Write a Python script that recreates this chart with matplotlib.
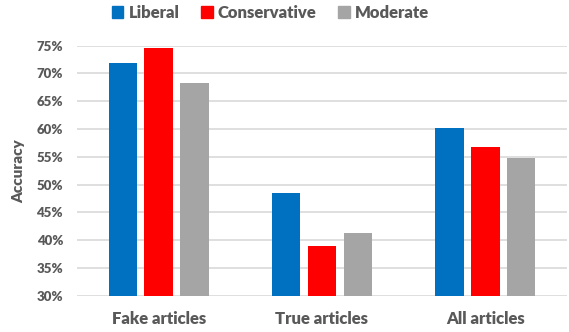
import numpy as np
import matplotlib.pyplot as plt
from matplotlib.patches import Patch

categories = ['Fake articles', 'True articles', 'All articles']
liberal = [71.8, 48.4, 60.1]
conservative = [74.5, 39.0, 56.7]
moderate = [68.2, 41.3, 54.8]
yticks = [30, 35, 40, 45, 50, 55, 60, 65, 70, 75]

series = [('Liberal', liberal, '#0070C0'),
          ('Conservative', conservative, '#FF0000'),
          ('Moderate', moderate, '#A5A5A5')]

plt.rcParams['font.family'] = ['Lato', 'DejaVu Sans']
text_col = '#595959'
wt = 'heavy'

fig = plt.figure(figsize=(5.69, 3.32), dpi=100)
ax = fig.add_axes([0.1353, 0.1093, 0.8612, 0.753])

x = np.arange(len(categories))
step = 0.22
width = 0.174
for i, (name, vals, col) in enumerate(series):
    ax.bar(x + (i - 1) * step, np.array(vals) - 30, width, bottom=30,
           color=col, label=name, zorder=3)

ax.set_xlim(-0.5, 2.5)
ax.set_ylim(30, 75)
ax.set_yticks(yticks)
ax.set_yticklabels([f'{t}%' for t in yticks], fontsize=9.5, fontweight=wt, color=text_col)
ax.set_xticks(x)
ax.set_xticklabels(categories, fontsize=12, fontweight=wt, color=text_col)
ax.tick_params(axis='y', length=0, pad=10)
ax.tick_params(axis='x', length=0, pad=11)
ax.grid(axis='y', color='#D9D9D9', linewidth=1.2, zorder=0)
for s in ax.spines.values():
    s.set_visible(False)
ax.set_ylabel('Accuracy', fontsize=11, fontweight=wt, color=text_col, labelpad=8)

handles = [Patch(color=c, label=n) for n, _, c in series]
fig.legend(handles=handles, loc='upper center', bbox_to_anchor=(0.475, 1.03), ncol=3,
           frameon=False, handlelength=0.7, handleheight=0.7, handletextpad=0.3,
           columnspacing=1.3,
           prop={'size': 12, 'weight': wt}, labelcolor=text_col)

fig.savefig('out.png', dpi=100)
